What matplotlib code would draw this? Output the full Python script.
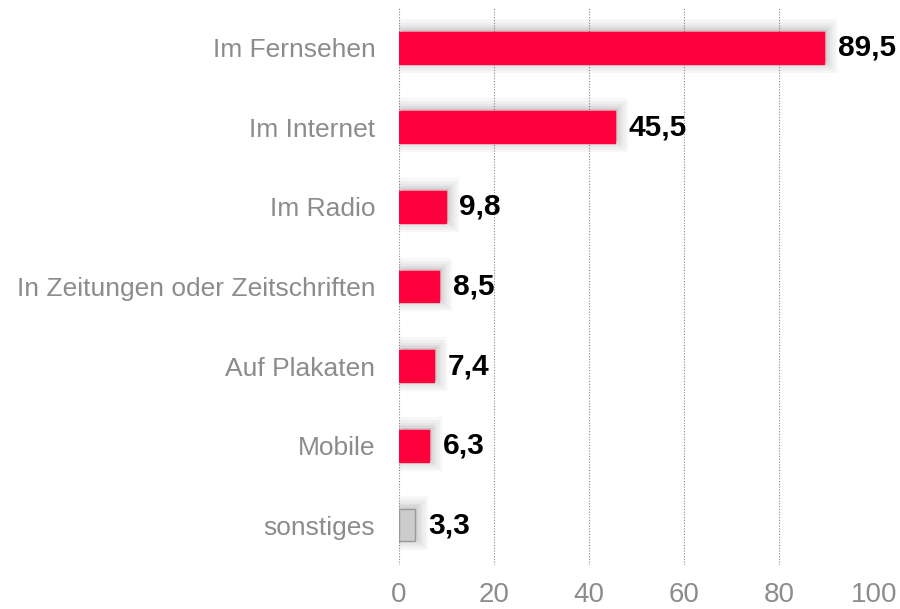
import matplotlib.pyplot as plt
import matplotlib.patheffects as pe

categories = ["Im Fernsehen", "Im Internet", "Im Radio", "In Zeitungen oder Zeitschriften",
              "Auf Plakaten", "Mobile", "sonstiges"]
values = [89.5, 45.5, 9.8, 8.5, 7.4, 6.3, 3.3]
labels = ["89,5", "45,5", "9,8", "8,5", "7,4", "6,3", "3,3"]
colors = ["#ff003c"] * 6 + ["#cccccc"]
edges = ["#ff003c"] * 6 + ["#999999"]

plt.rcParams['font.family'] = ['Liberation Sans', 'DejaVu Sans']

fig = plt.figure(figsize=(9, 6.09), dpi=100)
ax = fig.add_axes([0.4433, 0.0722, 0.5278, 0.9146])

# soft glow-like shadow around each bar
shadow = [pe.Stroke(offset=(1.5, 1.5), linewidth=w, foreground='#333333', alpha=0.04)
          for w in (16, 12, 8, 5, 3)] + [pe.Normal()]

pos = list(range(len(categories)))
bars = ax.barh(pos, values, height=0.4, color=colors, edgecolor=edges, linewidth=1, zorder=3)
for b in bars:
    b.set_path_effects(shadow)

for p, v, t in zip(pos, values, labels):
    ax.annotate(t, (v, p), xytext=(10, 0), textcoords='offset points',
                va='center', ha='left', fontsize=21.5, fontweight='bold', color='black')

ax.set_xlim(0, 100)
ax.set_ylim(6.5, -0.5)
ax.set_yticks(pos)
ax.set_yticklabels(categories)
ax.set_xticks([0, 20, 40, 60, 80, 100])
ax.tick_params(axis='y', length=0, pad=17, labelsize=19, labelcolor='#8c8c8c')
ax.tick_params(axis='x', length=0, pad=12, labelsize=20, labelcolor='#8c8c8c')
ax.grid(axis='x', color='#888888', linestyle=(0, (1, 1.5)), linewidth=0.8, zorder=0)
for s in ax.spines.values():
    s.set_visible(False)

fig.savefig("out.png", dpi=100)
